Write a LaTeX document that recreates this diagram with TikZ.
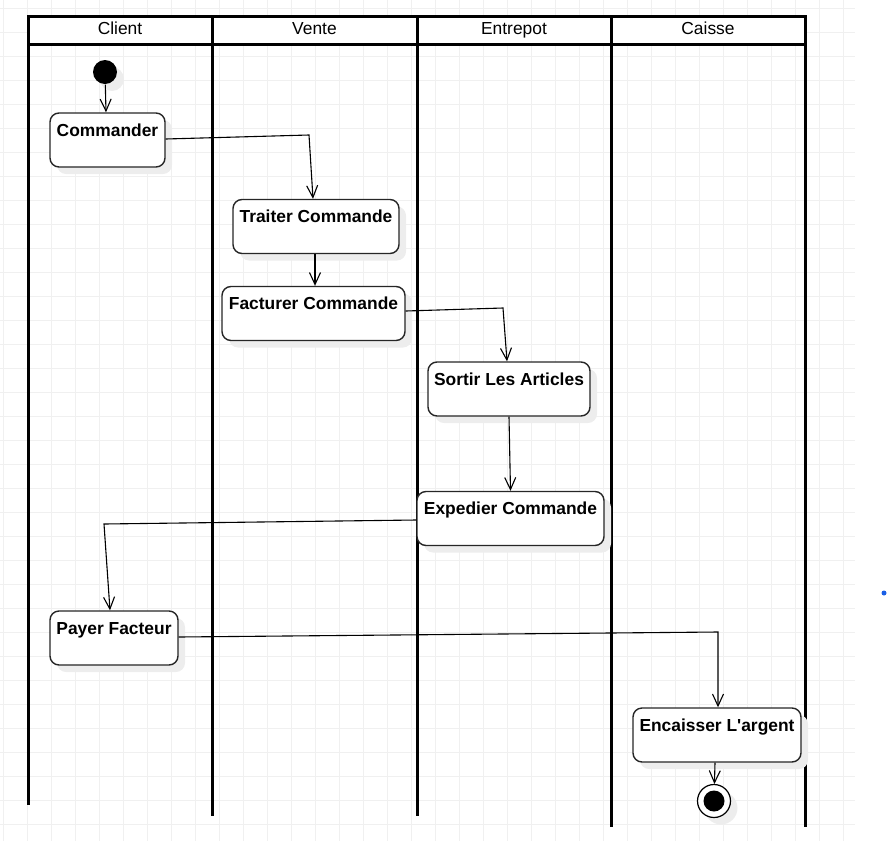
\documentclass[tikz,border=0pt]{standalone}
\usepackage{fontspec}
\setmainfont{Liberation Sans}
\usetikzlibrary{shapes,arrows.meta,positioning,shadows}
\definecolor{dotblue}{HTML}{1A5FE6}

\begin{document}
\begin{tikzpicture}[x=1pt, y=-1pt, >={Straight Barb[length=12pt,width=11pt]}, line width=1.1pt]
        \tikzstyle{grid}=[draw=black!6, line width=0.8pt]
        \tikzstyle{lane}=[draw=black, line width=3pt]
        \tikzstyle{head}=[inner sep=0pt, text height=12.4pt, text depth=3.6pt, font=\fontsize{17.4}{20}\selectfont]
        \tikzstyle{shade}=[drop shadow={shadow xshift=7pt, shadow yshift=-7pt, fill=black!7, opacity=1}]
        \tikzstyle{act}=[draw=black!85, line width=1.4pt, rounded corners=9pt, fill=white, shade, inner xsep=0pt, inner ysep=0pt, text height=23pt, text depth=31pt, font=\fontsize{17.4}{20}\selectfont\bfseries]
        \useasboundingbox (0,0) rectangle (889,841);
        \foreach \i in {0,...,35} \draw[grid] ({3.3+24*\i},0) -- ({3.3+24*\i},841);
        \foreach \i in {0,...,34} \draw[grid] (0,{8.3+24*\i}) -- (855,{8.3+24*\i});

        \draw[lane, fill=white] (28,16) rectangle (805,44);
        \draw[lane] (28,16) -- (28,805);
        \draw[lane] (212,16) -- (212,816);
        \draw[lane] (417,16) -- (417,816);
        \draw[lane] (611,16) -- (611,827);
        \draw[lane] (805,16) -- (805,827);
        \node[head] (H1) at (120,30)   {Client};
        \node[head] (H2) at (314.5,30) {Vente};
        \node[head] (H3) at (514,30)   {Entrepot};
        \node[head] (H4) at (708,30)   {Caisse};

        \node[circle, fill=black, minimum size=24pt, inner sep=0pt, shade] (I) at (105,72) {};
        \node[act, minimum width=115pt] (A) at (107.5,140)  {Commander};
        \node[act, minimum width=166pt] (B) at (316,226.5)  {Traiter Commande};
        \node[act, minimum width=183pt] (C) at (313.5,313.5) {Facturer Commande};
        \node[act, minimum width=162pt] (D) at (509,389)    {Sortir Les Articles};
        \node[act, minimum width=187pt] (E) at (510.5,518.5) {Expedier Commande};
        \node[act, minimum width=128pt] (F) at (114,638)    {Payer Facteur};
        \node[act, minimum width=168pt] (G) at (717,735)    {Encaisser L\textquotesingle argent};
        \node[circle, draw=black, fill=white, line width=1.2pt, minimum size=33pt, inner sep=0pt, shade] (Z) at (714,801) {};
        \node[circle, fill=black, minimum size=21pt, inner sep=0pt] (Zin) at (Z) {};
        \node[circle, fill=dotblue, minimum size=5pt, inner sep=0pt] (dot) at (884,593) {};

        \coordinate (ab) at (309,135);
        \coordinate (cd) at (503,308);
        \coordinate (ef) at (104,524);
        \coordinate (fg) at (718,632);
        \draw[->] (I) -- ([xshift=-1.5pt]A.north);
        \draw[->] ([yshift=1pt]A.east) -- (ab) -- ([xshift=-3pt]B.north);
        \draw[->] ([xshift=-1pt]B.south) -- ([xshift=1.5pt]C.north);
        \draw[->] ([yshift=2.5pt]C.east) -- (cd) -- ([xshift=-2pt]D.north);
        \draw[->] (D.south) -- (E.north);
        \draw[->] ([yshift=-1.5pt]E.west) -- (ef) -- ([xshift=-4pt]F.north);
        \draw[->] ([yshift=1pt]F.east) -- (fg) -- ([xshift=1pt]G.north);
        \draw[->] ([xshift=-2pt]G.south) -- (Z);
    \end{tikzpicture}
\end{document}
